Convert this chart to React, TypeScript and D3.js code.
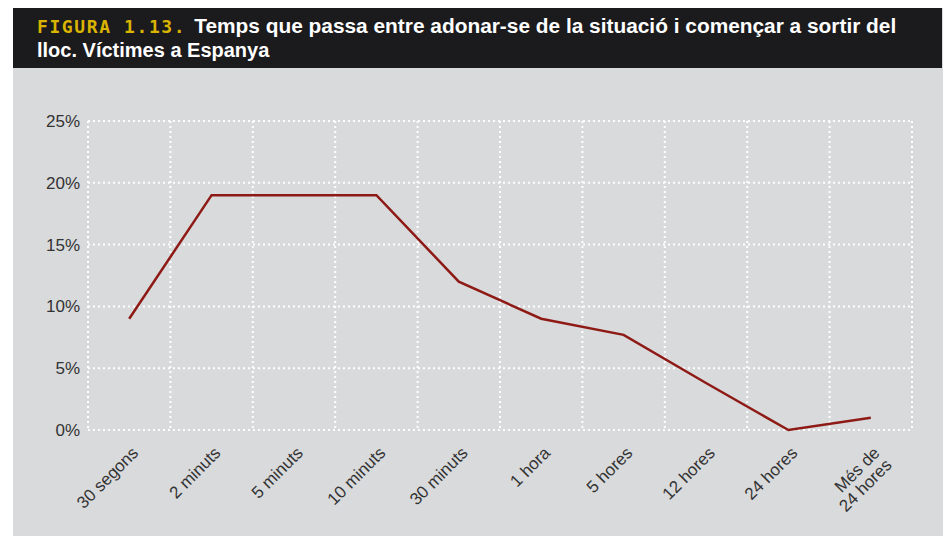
// @ts-nocheck
import React, { useEffect, useRef } from 'react';
import * as d3 from 'd3';

const categories = [
  '30 segons', '2 minuts', '5 minuts', '10 minuts', '30 minuts',
  '1 hora', '5 hores', '12 hores', '24 hores', 'Més de|24 hores',
];
const values = [9.0, 19.0, 19.0, 19.0, 12.0, 9.0, 7.7, 3.8, 0.0, 1.0];
const yTicks = [0, 5, 10, 15, 20, 25];

const titleLabel = 'FIGURA 1.13.';
const titleLine1 = 'Temps que passa entre adonar-se de la situació i començar a sortir del';
const titleLine2 = 'lloc. Víctimes a Espanya';

const App = () => {
  const svgRef = useRef(null);

  useEffect(() => {
    const width = 943;
    const height = 536;
    const margin = { top: 121, right: 31, bottom: 106, left: 88 };

    const svg = d3.select(svgRef.current)
      .attr('width', width)
      .attr('height', height)
      .attr('viewBox', [0, 0, width, height]);

    svg.selectAll('*').remove();

    // background panel + header
    svg.append('rect').attr('x', 13).attr('y', 8).attr('width', width - 13).attr('height', height - 8).attr('fill', '#d9dadc');
    svg.append('rect').attr('x', 13).attr('y', 8).attr('width', width - 14).attr('height', 60).attr('fill', '#1b1a1c');

    const t1 = svg.append('text')
      .attr('x', 37).attr('y', 33)
      .attr('font-family', '"Liberation Sans", Arial, sans-serif')
      .attr('font-weight', 'bold')
      .attr('font-size', 20)
      .attr('fill', '#fff');
    t1.append('tspan')
      .attr('font-family', '"DejaVu Sans Mono", monospace')
      .attr('fill', '#d9b400')
      .attr('font-size', 18)
      .attr('letter-spacing', 1.6)
      .text(titleLabel);
    t1.append('tspan')
      .attr('dx', 8)
      .attr('textLength', 702)
      .attr('lengthAdjust', 'spacingAndGlyphs')
      .text(titleLine1);

    svg.append('text')
      .attr('x', 37).attr('y', 57)
      .attr('font-family', '"Liberation Sans", Arial, sans-serif')
      .attr('font-weight', 'bold')
      .attr('font-size', 20)
      .attr('fill', '#fff')
      .text(titleLine2);

    const x = d3.scaleBand()
      .domain(categories)
      .range([margin.left, width - margin.right]);

    const y = d3.scaleLinear()
      .domain([0, 25])
      .range([height - margin.bottom, margin.top]);

    const grid = svg.append('g')
      .attr('stroke', '#fff')
      .attr('stroke-width', 2)
      .attr('stroke-dasharray', '2,3');

    grid.selectAll('line.h')
      .data(yTicks)
      .join('line')
      .attr('class', 'h')
      .attr('x1', margin.left).attr('x2', width - margin.right)
      .attr('y1', d => y(d)).attr('y2', d => y(d));

    const edges = categories.map(c => x(c)).concat([x.range()[1]]);
    grid.selectAll('line.v')
      .data(edges)
      .join('line')
      .attr('class', 'v')
      .attr('x1', d => d).attr('x2', d => d)
      .attr('y1', margin.top).attr('y2', height - margin.bottom);

    // y labels
    svg.append('g')
      .selectAll('text')
      .data(yTicks)
      .join('text')
      .attr('x', margin.left - 8)
      .attr('y', d => y(d))
      .attr('dy', '0.35em')
      .attr('text-anchor', 'end')
      .attr('font-family', '"Liberation Sans", Arial, sans-serif')
      .attr('font-size', 17)
      .attr('fill', '#333')
      .text(d => `${d}%`);

    // x labels, rotated
    const xl = svg.append('g')
      .selectAll('text')
      .data(categories)
      .join('text')
      .attr('transform', d => `translate(${x(d) + x.bandwidth() / 2 + 10},${height - margin.bottom + 24}) rotate(-45)`)
      .attr('text-anchor', 'end')
      .attr('font-family', '"Liberation Sans", Arial, sans-serif')
      .attr('font-size', 17)
      .attr('fill', '#333');

    xl.each(function (d) {
      const parts = d.split('|');
      const sel = d3.select(this);
      parts.forEach((p, i) => {
        sel.append('tspan')
          .attr('x', 0)
          .attr('dy', i === 0 ? 0 : '1.0em')
          .text(p);
      });
    });

    const line = d3.line()
      .x((d, i) => x(categories[i]) + x.bandwidth() / 2)
      .y(d => y(d));

    svg.append('path')
      .datum(values)
      .attr('fill', 'none')
      .attr('stroke', '#8e1a16')
      .attr('stroke-width', 2.5)
      .attr('stroke-linejoin', 'miter')
      .attr('d', line);
  }, []);

  return <svg ref={svgRef} style={{ position: 'absolute', left: 0, top: 0 }}></svg>;
};

export default App;
